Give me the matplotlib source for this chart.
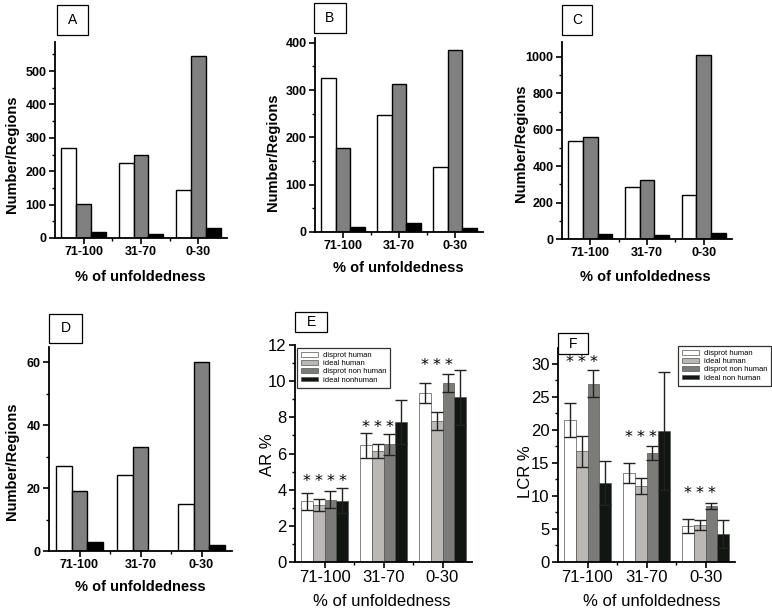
import numpy as np
import matplotlib.pyplot as plt
from matplotlib.patches import Rectangle
from matplotlib.ticker import MultipleLocator, FixedLocator

plt.rcParams['font.family'] = ['Liberation Sans', 'DejaVu Sans']

W, H = 772, 613

groups = ['71-100', '31-70', '0-30']

# panels A-D: number of regions (white, gray, black bars)
a_white = [270, 225, 145]
a_gray = [102, 250, 545]
a_black = [17, 12, 30]

b_white = [325, 248, 138]
b_gray = [177, 312, 384]
b_black = [10, 20, 8]

c_white = [540, 285, 240]
c_gray = [558, 325, 1010]
c_black = [25, 20, 35]

d_white = [27, 24, 15]
d_gray = [19, 33, 60]
d_black = [3, 0, 2]

# panel E: AR %
e_labels = ['disprot human', 'ideal human', 'disprot non human', 'ideal nonhuman']
e_means = [[3.35, 6.45, 9.35],
           [3.15, 6.15, 7.8],
           [3.45, 6.5, 9.9],
           [3.4, 7.75, 9.1]]
e_errs = [[0.45, 0.7, 0.55],
          [0.35, 0.4, 0.5],
          [0.45, 0.6, 0.5],
          [0.7, 1.2, 1.5]]
e_star_y = [4.6, 7.6, 11.0]
e_star_n = [4, 3, 3]

# panel F: LCR %
f_labels = ['disprot human', 'ideal human', 'disprot non human', 'ideal non human']
f_means = [[21.5, 13.5, 5.5],
           [16.8, 11.5, 5.6],
           [27.0, 16.5, 8.5],
           [12.0, 19.8, 4.2]]
f_errs = [[2.5, 1.5, 1.05],
          [2.35, 1.2, 0.8],
          [2.0, 1.1, 0.5],
          [3.3, 8.9, 2.1]]
f_star_y = [30.7, 19.3, 10.8]
f_star_n = [3, 3, 3]

fig = plt.figure(figsize=(W / 100, H / 100), dpi=100)


def px_axes(l, t, r, b):
    return fig.add_axes([l / W, 1 - b / H, (r - l) / W, (b - t) / H])


def px_text(x, y, s, **kw):
    fig.text(x / W, 1 - y / H, s, ha='center', va='center', **kw)


def letter_box(l, t, r, b, s):
    fig.add_artist(Rectangle((l / W, 1 - b / H), (r - l) / W, (b - t) / H,
                             transform=fig.transFigure, facecolor='white',
                             edgecolor='black', lw=0.9))
    px_text((l + r) / 2, (t + b) / 2, s, fontsize=10)


def style_axes(ax, bold, size):
    for s in ['top', 'right']:
        ax.spines[s].set_visible(False)
    for s in ['left', 'bottom']:
        ax.spines[s].set_linewidth(1.3)
    ax.set_xlim(-0.5, 2.5)
    ax.set_xticks(range(3))
    ax.set_xticklabels(groups)
    ax.xaxis.set_minor_locator(FixedLocator([0.5, 1.5]))
    ax.tick_params(which='major', direction='out', length=4, width=1.2,
                   labelsize=size, pad=2)
    ax.tick_params(which='minor', direction='out', length=2.5, width=1.0)
    if bold:
        for lab in ax.get_xticklabels() + ax.get_yticklabels():
            lab.set_fontweight('bold')


def count_panel(box, ylim, major, minor, white, gray, black):
    ax = px_axes(*box)
    x = np.arange(3)
    w = 0.26
    ax.bar(x - w, white, w, color='white', edgecolor='black', lw=1.0)
    ax.bar(x, gray, w, color='#808080', edgecolor='black', lw=1.0)
    ax.bar(x + w, black, w, color='black', edgecolor='black', lw=1.0)
    ax.set_ylim(0, ylim)
    ax.yaxis.set_major_locator(MultipleLocator(major))
    ax.yaxis.set_minor_locator(MultipleLocator(minor))
    style_axes(ax, True, 9)
    return ax


def percent_panel(box, ylim, major, minor, means, errs, labels, star_y, star_n, leg_xy):
    ax = px_axes(*box)
    x = np.arange(3)
    w = 0.2
    colors = ['white', '#b9b8b4', '#7b7b79', '#111613']
    for i in range(4):
        ax.bar(x + (i - 1.5) * w, means[i], w, color=colors[i],
               edgecolor='#555555', lw=0.5, label=labels[i],
               yerr=errs[i], capsize=4,
               error_kw=dict(ecolor='#222222', elinewidth=1.0, capthick=1.0))
    for g in range(3):
        for i in range(star_n[g]):
            ax.annotate('*', (g + (i - 1.5) * w, star_y[g]), xytext=(0, -2),
                        textcoords='offset points', ha='center', va='center',
                        fontsize=11.5, family='DejaVu Sans')
    ax.set_ylim(0, ylim)
    ax.yaxis.set_major_locator(MultipleLocator(major))
    ax.yaxis.set_minor_locator(MultipleLocator(minor))
    style_axes(ax, False, 12)
    ax.legend(loc='upper left', bbox_to_anchor=(leg_xy[0] / W, 1 - leg_xy[1] / H),
              bbox_transform=fig.transFigure, fontsize=5.5, frameon=True,
              fancybox=False, edgecolor='black', handlelength=2.3,
              handleheight=0.6, labelspacing=0.15, borderpad=0.5,
              borderaxespad=0, handletextpad=0.6).get_frame().set_linewidth(0.9)
    return ax


count_panel((55, 42, 227, 238), 587, 100, 50, a_white, a_gray, a_black)
count_panel((315, 38, 483, 232), 410, 100, 50, b_white, b_gray, b_black)
count_panel((562, 42, 732, 239), 1082, 200, 100, c_white, c_gray, c_black)
count_panel((49, 347, 232, 551), 64.8, 20, 10, d_white, d_gray, d_black)
percent_panel((295, 345, 472, 562), 12, 2, 1, e_means, e_errs, e_labels,
              e_star_y, e_star_n, (297, 348))
percent_panel((558, 348, 735, 562), 32.4, 5, 2.5, f_means, f_errs, f_labels,
              f_star_y, f_star_n, (678, 346))

# axis titles
bold_kw = dict(fontsize=10.5, fontweight='bold')
for x, y in [(12, 154), (273, 152), (521, 143), (12, 461)]:
    px_text(x, y, 'Number/Regions', rotation=90, **bold_kw)
for x, y in [(140, 277), (398, 268), (645, 277), (140, 587)]:
    px_text(x, y, '% of unfoldedness', **bold_kw)
px_text(268, 455, 'AR %', rotation=90, fontsize=12)
px_text(525, 472, 'LCR %', rotation=90, fontsize=12)
px_text(382, 602, '% of unfoldedness', fontsize=12)
px_text(652, 602, '% of unfoldedness', fontsize=12)

# panel letters
letter_box(57, 5, 88, 35, 'A')
letter_box(314, 3, 346, 33, 'B')
letter_box(562, 5, 592, 35, 'C')
letter_box(49, 314, 82, 343, 'D')
letter_box(295, 312, 327, 332, 'E')
letter_box(558, 333, 588, 354, 'F')

fig.savefig('out.png', dpi=100)
